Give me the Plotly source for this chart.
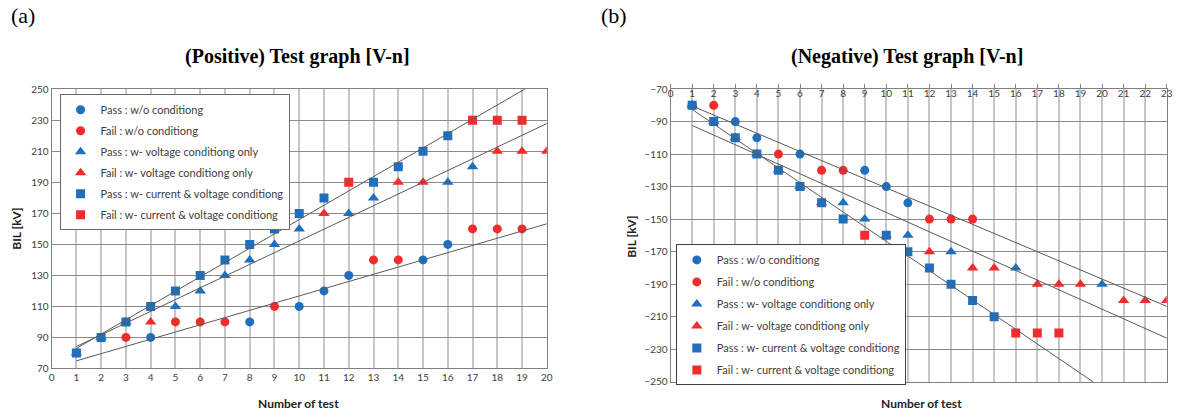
import numpy as np
import plotly.graph_objects as go

# ---------------- Data: (a) Positive ----------------
pos_pass_wo_x = [1, 4, 8, 10, 11, 12, 15, 16]
pos_pass_wo_y = [80, 90, 100, 110, 120, 130, 140, 150]
pos_fail_wo_x = [3, 5, 6, 7, 9, 13, 14, 17, 18, 19]
pos_fail_wo_y = [90, 100, 100, 100, 110, 140, 140, 160, 160, 160]
pos_pass_v_x = [1, 2, 3, 5, 6, 7, 8, 9, 10, 12, 13, 16, 17]
pos_pass_v_y = [80, 90, 100, 110, 120, 130, 140, 150, 160, 170, 180, 190, 200]
pos_fail_v_x = [4, 11, 14, 15, 18, 19, 20]
pos_fail_v_y = [100, 170, 190, 190, 210, 210, 210]
pos_pass_cv_x = [1, 2, 3, 4, 5, 6, 7, 8, 9, 10, 11, 13, 14, 15, 16]
pos_pass_cv_y = [80, 90, 100, 110, 120, 130, 140, 150, 160, 170, 180, 190, 200, 210, 220]
pos_fail_cv_x = [12, 17, 18, 19]
pos_fail_cv_y = [190, 230, 230, 230]

# ---------------- Data: (b) Negative ----------------
neg_pass_wo_x = [1, 3, 4, 6, 9, 10, 11]
neg_pass_wo_y = [-80, -90, -100, -110, -120, -130, -140]
neg_fail_wo_x = [2, 5, 7, 8, 12, 13, 14]
neg_fail_wo_y = [-80, -110, -120, -120, -150, -150, -150]
neg_pass_v_x = [1, 2, 3, 4, 5, 6, 8, 9, 11, 13, 16, 20]
neg_pass_v_y = [-80, -90, -100, -110, -120, -130, -140, -150, -160, -170, -180, -190]
neg_fail_v_x = [7, 10, 12, 14, 15, 17, 18, 19, 21, 22, 23]
neg_fail_v_y = [-140, -160, -170, -180, -180, -190, -190, -190, -200, -200, -200]
neg_pass_cv_x = [1, 2, 3, 4, 5, 6, 7, 8, 10, 11, 12, 13, 14, 15]
neg_pass_cv_y = [-80, -90, -100, -110, -120, -130, -140, -150, -160, -170, -180, -190, -200, -210]
neg_fail_cv_x = [9, 16, 17, 18]
neg_fail_cv_y = [-160, -220, -220, -220]

legend_names = [
    "Pass : w/o conditiong",
    "Fail : w/o conditiong",
    "Pass : w- voltage conditiong only",
    "Fail : w- voltage conditiong only",
    "Pass : w- current & voltage conditiong",
    "Fail : w- current & voltage conditiong",
]

BLUE = "#1f6fbd"
RED = "#f02c2c"
LINE = "#5a5a5a"
FONT = "Lato"

symbols = ["circle", "circle", "triangle-up", "triangle-up", "square", "square"]
sizes = [9, 9, 10, 10, 9, 9]
colors = [BLUE, RED, BLUE, RED, BLUE, RED]

fig = go.Figure()

def add_panel(series, xa, ya, legend, fit_pairs, xmax):
    for i, (xs, ys) in enumerate(series):
        fig.add_trace(go.Scatter(
            x=xs, y=ys, mode="markers", name=legend_names[i],
            marker=dict(symbol=symbols[i], size=sizes[i], color=colors[i], line=dict(width=0)),
            xaxis=xa, yaxis=ya, legend=legend, legendgroup=f"{legend}_{i}",
            showlegend=True,
        ))
    for xs, ys in fit_pairs:
        k, b = np.polyfit(xs, ys, 1)
        lx = np.array([1.0, float(xmax)])
        fig.add_trace(go.Scatter(
            x=lx, y=k * lx + b, mode="lines", line=dict(color=LINE, width=1),
            xaxis=xa, yaxis=ya, showlegend=False, hoverinfo="skip",
        ))

pos_series = [(pos_pass_wo_x, pos_pass_wo_y), (pos_fail_wo_x, pos_fail_wo_y),
              (pos_pass_v_x, pos_pass_v_y), (pos_fail_v_x, pos_fail_v_y),
              (pos_pass_cv_x, pos_pass_cv_y), (pos_fail_cv_x, pos_fail_cv_y)]
neg_series = [(neg_pass_wo_x, neg_pass_wo_y), (neg_fail_wo_x, neg_fail_wo_y),
              (neg_pass_v_x, neg_pass_v_y), (neg_fail_v_x, neg_fail_v_y),
              (neg_pass_cv_x, neg_pass_cv_y), (neg_fail_cv_x, neg_fail_cv_y)]

add_panel(pos_series, "x", "y", "legend",
          [(pos_pass_wo_x, pos_pass_wo_y), (pos_pass_v_x, pos_pass_v_y), (pos_pass_cv_x, pos_pass_cv_y)], 20)
add_panel(neg_series, "x2", "y2", "legend2",
          [(neg_pass_wo_x, neg_pass_wo_y), (neg_pass_v_x, neg_pass_v_y), (neg_pass_cv_x, neg_pass_cv_y)], 23)

W, H = 1180, 418
def px(x): return x / W
def py(y): return 1 - y / H

tickfont = dict(family=FONT, size=10, color="#404040")
fig.update_layout(
    width=W, height=H, autosize=False,
    margin=dict(l=0, r=0, t=0, b=0),
    paper_bgcolor="white", plot_bgcolor="white",
    xaxis=dict(domain=[px(49), px(548)], range=[0, 20], dtick=1, tick0=0,
               showgrid=True, gridcolor="#c6c6c6", gridwidth=2,
               showline=True, linecolor="#808080", linewidth=1, mirror=True,
               zeroline=False, ticks="", tickfont=tickfont, anchor="y",
               ticklabeloverflow="allow"),
    yaxis=dict(domain=[py(373), py(85)], range=[70, 250], dtick=20, tick0=70,
               showgrid=True, gridcolor="#8a8a8a", gridwidth=1,
               showline=True, linecolor="#808080", linewidth=1, mirror=True,
               zeroline=False, ticks="", tickfont=tickfont, anchor="x",
               ticklabeloverflow="allow"),
    xaxis2=dict(domain=[px(672.7), px(1172.7)], range=[0, 23], dtick=1, tick0=0,
                side="top", ticklabelposition="inside",
                showgrid=True, gridcolor="#c6c6c6", gridwidth=2,
                showline=True, linecolor="#808080", linewidth=1, mirror=True,
                zeroline=False, ticks="outside", ticklen=4, tickcolor="#808080",
                tickfont=tickfont, anchor="y2", ticklabeloverflow="allow"),
    yaxis2=dict(domain=[py(386.7), py(84.7)], range=[-250, -70], dtick=20, tick0=-250,
                showgrid=True, gridcolor="#8a8a8a", gridwidth=1,
                showline=True, linecolor="#808080", linewidth=1, mirror=True,
                zeroline=False, ticks="", tickfont=tickfont, anchor="x2",
                ticklabeloverflow="allow"),
    legend=dict(x=px(57), y=py(90), xanchor="left", yanchor="top",
                bgcolor="white", bordercolor="#6a6a6a", borderwidth=1,
                font=dict(family=FONT, size=11, color="#404040"),
                tracegroupgap=2, itemclick=False),
    legend2=dict(x=px(678), y=py(245), xanchor="left", yanchor="top",
                 bgcolor="white", bordercolor="#404040", borderwidth=1,
                 font=dict(family=FONT, size=11, color="#404040"),
                 tracegroupgap=3, itemclick=False),
    showlegend=True,
)

ann = []
ann.append(dict(text="(a)", x=px(6), y=py(9), xanchor="left", yanchor="middle",
                font=dict(family="Liberation Serif", size=22, color="black")))
ann.append(dict(text="(b)", x=px(601), y=py(9), xanchor="left", yanchor="middle",
                font=dict(family="Liberation Serif", size=22, color="black")))
ann.append(dict(text="<b>(Positive) Test graph [V-n]</b>", x=px(297), y=py(51), xanchor="center", yanchor="middle",
                font=dict(family="Liberation Serif", size=20, color="black")))
ann.append(dict(text="<b>(Negative) Test graph [V-n]</b>", x=px(911), y=py(51), xanchor="center", yanchor="middle",
                font=dict(family="Liberation Serif", size=20, color="black")))
ann.append(dict(text="<b>Number of test</b>", x=px(298), y=py(409), xanchor="center", yanchor="middle",
                font=dict(family=FONT, size=12, color="#222222")))
ann.append(dict(text="<b>Number of test</b>", x=px(926), y=py(409), xanchor="center", yanchor="middle",
                font=dict(family=FONT, size=12, color="#222222")))
ann.append(dict(text="<b>BIL [kV]</b>", x=px(14), y=py(229), xanchor="center", yanchor="middle", textangle=-90,
                font=dict(family=FONT, size=12, color="#222222")))
ann.append(dict(text="<b>BIL [kV]</b>", x=px(633), y=py(237), xanchor="center", yanchor="middle", textangle=-90,
                font=dict(family=FONT, size=12, color="#222222")))
for a in ann:
    a.update(xref="paper", yref="paper", showarrow=False)
fig.update_layout(annotations=ann)

fig.write_html("out.html", config={"displayModeBar": False},
               post_script="document.body.style.margin='0';document.body.style.overflow='hidden';")
